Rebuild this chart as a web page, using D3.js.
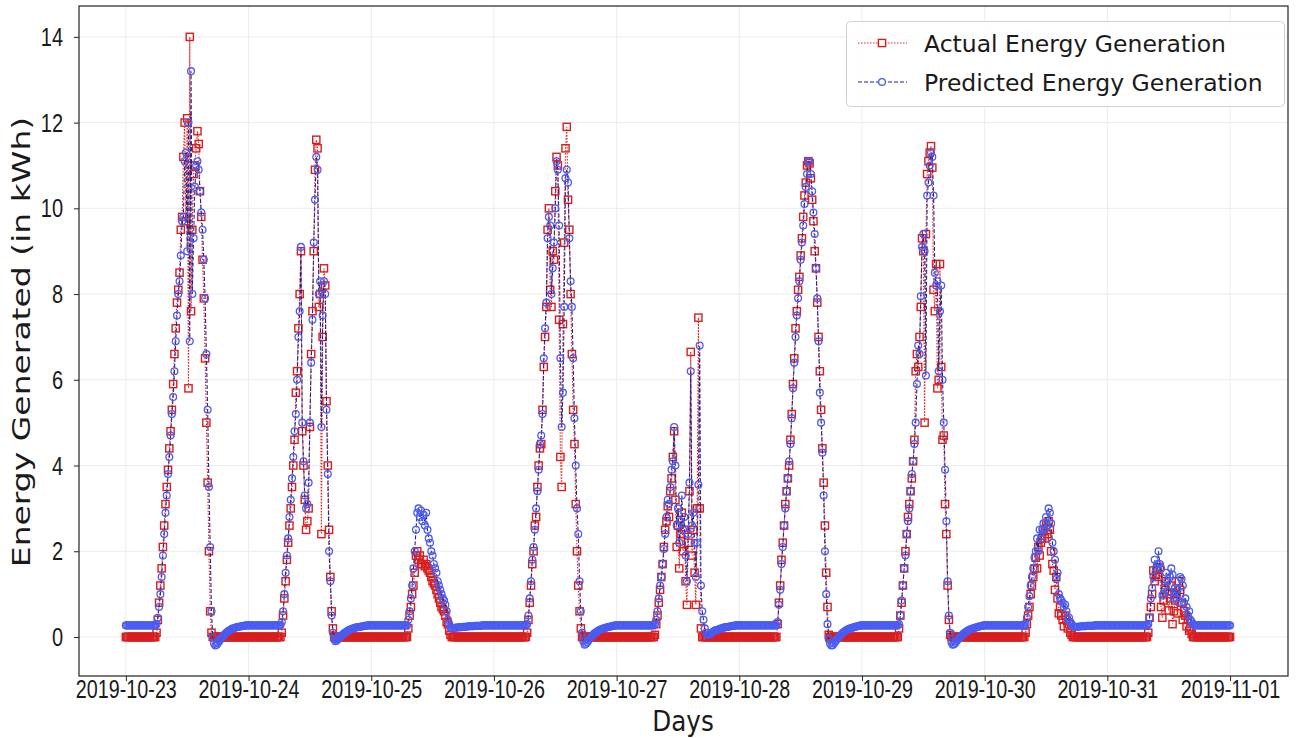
<!DOCTYPE html>
<html>
<head>
<meta charset="utf-8">
<script src="https://cdn.jsdelivr.net/npm/d3@7/dist/d3.min.js"></script>
<style>
  body { margin: 0; background: #fff; }
  svg { display: block; font-family: "DejaVu Sans", sans-serif; }
</style>
</head>
<body>
<div id="chart"></div>
<script>
// readings every 15 minutes, 96 per day (00:00 ... 23:45)
const dayLabels = ["2019-10-23", "2019-10-24", "2019-10-25", "2019-10-26", "2019-10-27",
                   "2019-10-28", "2019-10-29", "2019-10-30", "2019-10-31", "2019-11-01"];
const yTicks = [0, 2, 4, 6, 8, 10, 12, 14];
const seriesNames = ["Actual Energy Generation", "Predicted Energy Generation"];

const actual23 = [
  0,0,0,0,0,0, 0,0,0,0,0,0, 0,0,0,0,0,0, 0,0,0,0,0,0,
  .1,.4,.8,1.2,1.6,2.1, 2.6,3.1,3.5,3.9,4.4,4.8, 5.3,5.9,6.6,7.2,7.8,8.1, 8.5,9.5,9.8,11.2,12.0,9.7,
  12.1,5.8,14.0,7.6,9.5,10.8, 11.0,11.4,11.8,11.5,10.4,9.8, 8.8,7.9,6.5,5.0,3.6,2.0, .6,.1,0,0,0,0,
  0,0,0,0,0,0, 0,0,0,0,0,0, 0,0,0,0,0,0, 0,0,0,0,0,0];
const predicted23 = [
  .27,.27,.27,.27,.27,.27, .27,.27,.27,.27,.27,.27, .27,.27,.27,.27,.27,.27, .27,.27,.27,.27,.27,.27,
  .3,.45,.7,1.0,1.4,1.9, 2.4,2.9,3.3,3.8,4.2,4.7, 5.2,5.6,6.2,6.9,7.5,8.0, 8.3,8.9,9.7,9.8,11.1,11.3,
  9.0,12.0,6.9,13.2,8.0,9.3, 10.5,11.0,11.1,10.9,10.4,9.9, 9.5,8.8,7.9,6.6,5.3,3.5, 2.1,.6,0,-.15,-.2,-.18,
  -.14,-.1,-.06,-.02,.02,.05, .08,.11,.13,.15,.17,.19, .2,.21,.22,.23,.24,.24, .25,.25,.26,.26,.27,.27];

const actual24 = [
  0,0,0,0,0,0, 0,0,0,0,0,0, 0,0,0,0,0,0, 0,0,0,0,0,0,
  0,0,.1,.5,.9,1.3, 1.8,2.2,2.6,3.0,3.5,4.0, 4.6,5.7,6.2,7.2,8.0,9.0, 4.8,4.0,3.2,2.5,2.7,3.0,
  4.9,6.6,7.6,9.0,10.9,11.6, 11.4,7.7,8.0,2.4,7.0,8.6, 8.2,5.5,4.0,2.5,1.4,.6, .2,0,0,0,0,0,
  0,0,0,0,0,0, 0,0,0,0,0,0, 0,0,0,0,0,0, 0,0,0,0,0,0];
const predicted24 = [
  .27,.27,.27,.27,.27,.27, .27,.27,.27,.27,.27,.27, .27,.27,.27,.27,.27,.27, .27,.27,.27,.27,.27,.27,
  .27,.28,.35,.6,1.0,1.5, 1.9,2.3,2.8,3.2,3.7,4.2, 4.8,5.2,6.0,7.0,7.6,9.1, 5.0,4.1,3.3,3.0,3.1,3.6,
  5.0,6.4,7.4,9.2,10.2,11.2, 10.9,8.0,8.3,4.9,7.5,8.3, 8.0,5.3,3.8,2.0,1.3,.5, .1,-.05,-.1,-.08,-.05,-.02,
  .01,.04,.07,.09,.11,.13, .15,.17,.18,.19,.2,.21, .22,.23,.23,.24,.24,.25, .25,.26,.26,.27,.27,.27];

const actual25 = [
  0,0,0,0,0,0, 0,0,0,0,0,0, 0,0,0,0,0,0, 0,0,0,0,0,0,
  0,0,0,0,0,.2, .5,.7,1.0,1.2,1.5,1.9, 2.0,1.8,1.9,1.7,1.7,1.8, 1.65,1.7,1.6,1.55,1.5,1.4,
  1.3,1.25,1.2,1.1,1.0,.9, .8,.7,.65,.6,.5,.35, .3,.15,.05,0,0,0, 0,0,0,0,0,0,
  0,0,0,0,0,0, 0,0,0,0,0,0, 0,0,0,0,0,0, 0,0,0,0,0,0];
const predicted25 = [
  .27,.27,.27,.27,.27,.27, .27,.27,.27,.27,.27,.27, .27,.27,.27,.27,.27,.27, .27,.27,.27,.27,.27,.27,
  .27,.27,.27,.27,.27,.4, .6,.9,1.2,1.6,2.0,2.5, 2.9,3.0,2.8,2.95,2.7,2.85, 2.6,2.9,2.5,2.3,2.2,2.0,
  1.9,1.7,1.6,1.5,1.3,1.2, 1.1,1.0,.9,.85,.75,.6, .4,.3,.22,.2,.21,.21, .22,.22,.22,.23,.23,.23,
  .24,.24,.24,.24,.25,.25, .25,.25,.25,.26,.26,.26, .26,.26,.26,.27,.27,.27, .27,.27,.27,.27,.27,.27];

const actual26 = [
  0,0,0,0,0,0, 0,0,0,0,0,0, 0,0,0,0,0,0, 0,0,0,0,0,0,
  0,0,.1,.4,.8,1.2, 1.7,2.0,2.6,2.8,3.5,4.0, 4.4,4.5,5.3,6.3,7.0,7.7, 9.5,10.0,8.1,7.7,9.0,8.8,
  10.4,11.2,11.0,7.4,4.2,3.5, 7.3,9.2,11.4,11.9,10.2,9.5, 8.0,6.6,5.3,4.5,3.1,2.0, 1.2,.6,.2,0,0,0,
  0,0,0,0,0,0, 0,0,0,0,0,0, 0,0,0,0,0,0, 0,0,0,0,0,0];
const predicted26 = [
  .27,.27,.27,.27,.27,.27, .27,.27,.27,.27,.27,.27, .27,.27,.27,.27,.27,.27, .27,.27,.27,.27,.27,.27,
  .27,.28,.3,.5,.9,1.3, 1.8,2.1,2.5,3.0,3.4,3.9, 4.5,4.7,5.2,6.5,7.2,7.8, 9.3,9.8,9.6,8.0,8.6,9.2,
  10.0,11.1,10.9,9.6,6.5,4.9, 5.7,7.7,10.7,10.9,10.6,9.3, 8.3,7.7,6.5,5.1,4.0,3.0, 2.4,1.3,.6,.1,-.1,-.18,
  -.16,-.12,-.08,-.04,0,.03, .06,.09,.11,.13,.15,.17, .18,.19,.2,.21,.22,.23, .24,.24,.25,.26,.26,.27];

const actual27 = [
  0,0,0,0,0,0, 0,0,0,0,0,0, 0,0,0,0,0,0, 0,0,0,0,0,0,
  0,0,0,0,0,0, .05,.3,.5,.8,1.1,1.4, 1.7,2.1,2.5,2.7,3.05,2.8, 3.4,3.7,4.2,4.8,3.2,2.1,
  2.6,1.6,2.4,2.9,2.0,2.5, 1.3,.75,2.2,3.4,6.65,1.9, 2.5,1.5,.75,3.0,7.45,3.0, .2,0,0,0,0,0,
  0,0,0,0,0,0, 0,0,0,0,0,0, 0,0,0,0,0,0, 0,0,0,0,0,0];
const predicted27 = [
  .27,.27,.27,.27,.27,.27, .27,.27,.27,.27,.27,.27, .27,.27,.27,.27,.27,.27, .27,.27,.27,.27,.27,.27,
  .27,.27,.27,.27,.27,.27, .3,.4,.6,.9,1.2,1.4, 1.7,2.05,2.4,2.8,3.2,3.1, 3.5,3.9,4.1,4.9,4.0,2.6,
  3.0,2.2,2.7,3.3,2.5,2.8, 1.9,1.3,2.4,3.6,6.2,2.6, 2.9,2.2,1.4,2.2,3.55,6.8, 1.2,.6,.4,.2,.1,.05,
  .05,.07,.09,.11,.13,.15, .16,.17,.18,.19,.2,.21, .22,.23,.23,.24,.24,.25, .25,.26,.26,.27,.27,.27];

const actual28 = [
  0,0,0,0,0,0, 0,0,0,0,0,0, 0,0,0,0,0,0, 0,0,0,0,0,0,
  0,0,0,0,0,0, .3,.8,1.2,1.8,2.2,2.6, 3.1,3.4,3.7,4.0,4.6,5.2, 5.9,6.5,7.2,7.6,8.1,8.4,
  8.9,9.3,9.8,10.3,10.6,11.0, 11.1,11.05,10.7,10.2,9.7,9.0, 8.6,7.8,7.0,6.2,5.3,4.4, 3.6,2.6,1.5,.7,.05,0,
  0,0,0,0,0,0, 0,0,0,0,0,0, 0,0,0,0,0,0, 0,0,0,0,0,0];
const predicted28 = [
  .27,.27,.27,.27,.27,.27, .27,.27,.27,.27,.27,.27, .27,.27,.27,.27,.27,.27, .27,.27,.27,.27,.27,.27,
  .27,.27,.27,.27,.27,.27, .35,.75,1.1,1.7,2.1,2.6, 3.0,3.4,3.7,4.1,4.5,5.1, 5.8,6.4,7.0,7.5,7.9,8.3,
  8.8,9.2,9.6,10.1,10.5,10.8, 11.1,11.1,10.8,10.4,9.9,9.4, 8.6,7.9,6.9,5.7,5.0,4.3, 3.3,2.0,1.0,.3,-.05,-.15,
  -.2,-.19,-.15,-.11,-.07,-.03, 0,.04,.07,.1,.12,.14, .16,.18,.19,.2,.21,.22, .23,.24,.25,.25,.26,.27];

const actual29 = [
  0,0,0,0,0,0, 0,0,0,0,0,0, 0,0,0,0,0,0, 0,0,0,0,0,0,
  0,0,0,0,0,.2, .5,.8,1.2,1.6,2.0,2.4, 2.8,3.1,3.4,3.7,4.1,4.6, 6.2,6.6,6.3,7.0,7.7,9.3,
  9.0,5.0,9.4,10.8,11.1,11.3, 11.45,10.95,8.1,7.6,8.7,5.8, 6.0,8.7,6.3,4.6,4.7,3.1, 2.4,1.2,.4,.05,0,0,
  0,0,0,0,0,0, 0,0,0,0,0,0, 0,0,0,0,0,0, 0,0,0,0,0,0];
const predicted29 = [
  .27,.27,.27,.27,.27,.27, .27,.27,.27,.27,.27,.27, .27,.27,.27,.27,.27,.27, .27,.27,.27,.27,.27,.27,
  .27,.27,.27,.27,.27,.3, .5,.85,1.2,1.6,1.9,2.4, 2.7,3.0,3.4,3.8,4.1,4.5, 5.0,5.9,6.8,6.6,7.95,9.1,
  9.4,9.0,6.1,10.3,10.6,11.0, 11.3,11.2,10.3,8.5,8.2,8.3, 6.2,7.6,8.2,6.0,5.0,3.9, 2.7,1.3,.5,.1,-.12,-.18,
  -.17,-.14,-.1,-.06,-.03,0, .03,.06,.09,.11,.13,.15, .17,.18,.19,.2,.21,.22, .23,.24,.25,.25,.26,.27];

const actual30 = [
  0,0,0,0,0,0, 0,0,0,0,0,0, 0,0,0,0,0,0, 0,0,0,0,0,0,
  0,0,0,0,0,0, 0,0,.1,.3,.5,.7, 1.0,1.2,1.4,1.6,1.85,1.6, 2.1,1.9,2.2,2.3,2.5,2.3,
  2.6,2.4,2.7,2.5,2.0,1.7, 1.55,1.1,1.4,.9,.55,.7, .5,.4,.25,.5,.4,.2, .3,.1,.05,0,0,0,
  0,0,0,0,0,0, 0,0,0,0,0,0, 0,0,0,0,0,0, 0,0,0,0,0,0];
const predicted30 = [
  .27,.27,.27,.27,.27,.27, .27,.27,.27,.27,.27,.27, .27,.27,.27,.27,.27,.27, .27,.27,.27,.27,.27,.27,
  .27,.27,.27,.27,.27,.27, .27,.27,.3,.45,.7,.95, 1.2,1.4,1.6,1.85,2.0,2.3, 2.0,2.5,2.3,2.5,2.65,2.5,
  2.8,2.6,3.0,2.9,2.65,2.2, 2.0,1.8,1.35,1.5,1.0,.9, .85,.8,.7,.75,.6,.4, .45,.35,.3,.25,.24,.24,
  .24,.24,.24,.25,.25,.25, .25,.25,.26,.26,.26,.26, .26,.26,.27,.27,.27,.27, .27,.27,.27,.27,.27,.27];

const actual31 = [
  0,0,0,0,0,0, 0,0,0,0,0,0, 0,0,0,0,0,0, 0,0,0,0,0,0,
  0,0,0,0,0,0, 0,0,.1,.45,.7,1.0, 1.55,1.3,1.45,1.6,1.4,1.63, .7,.45,.85,1.1,1.3,1.0,
  .62,.9,1.2,.3,.6,.85, 1.0,.55,1.3,1.1,.8,.4, .6,.5,.25,.4,.15,.2, .07,0,0,0,0,0,
  0,0,0,0,0,0, 0,0,0,0,0,0, 0,0,0,0,0,0, 0,0,0,0,0,0];
const predicted31 = [
  .27,.27,.27,.27,.27,.27, .27,.27,.27,.27,.27,.27, .27,.27,.27,.27,.27,.27, .27,.27,.27,.27,.27,.27,
  .27,.27,.27,.27,.27,.27, .27,.27,.3,.45,.9,1.15, 1.4,1.8,1.6,1.7,2.0,1.7, 1.6,.97,1.0,1.2,1.5,1.3,
  1.05,1.4,1.6,1.45,.9,1.15, .9,1.1,.8,1.4,1.35,1.2, .8,.9,.7,.5,.6,.4, .35,.3,.27,.27,.27,.27,
  .27,.27,.27,.27,.27,.27, .27,.27,.27,.27,.27,.27, .27,.27,.27,.27,.27,.27, .27,.27,.27,.27,.27,.27];

// last reading, 2019-11-01 00:00
const actualLast = [0];
const predictedLast = [.27];

const actualDays = [actual23, actual24, actual25, actual26, actual27, actual28, actual29, actual30, actual31];
const predictedDays = [predicted23, predicted24, predicted25, predicted26, predicted27, predicted28, predicted29, predicted30, predicted31];
[...actualDays, ...predictedDays].forEach((arr, k) => {
  if (arr.length !== 96) throw new Error("day array " + k + " has " + arr.length + " values");
});

const actual = [].concat(...actualDays, actualLast);
const predicted = [].concat(...predictedDays, predictedLast);

const parseDay = d3.utcParse("%Y-%m-%d");
const dayDates = dayLabels.map(parseDay);
const times = actual.map((v, i) => new Date(dayDates[0].getTime() + i * 15 * 60 * 1000));

const width = 1300, height = 738;
const plot = {left: 79, right: 1288, top: 6, bottom: 676};

const svg = d3.select("#chart").append("svg")
  .attr("width", width)
  .attr("height", height);

const x = d3.scaleUtc()
  .domain([new Date(Date.UTC(2019, 9, 22, 14, 50)), new Date(Date.UTC(2019, 10, 1, 11, 20))])
  .range([plot.left, plot.right]);

const y = d3.scaleLinear()
  .domain([-0.91, 14.72])
  .range([plot.bottom, plot.top]);

// grid
svg.append("g")
  .selectAll("line")
  .data(dayDates)
  .join("line")
  .attr("x1", d => x(d)).attr("x2", d => x(d))
  .attr("y1", plot.top).attr("y2", plot.bottom)
  .attr("stroke", "#ececec").attr("stroke-width", 1);

svg.append("g")
  .selectAll("line")
  .data(yTicks)
  .join("line")
  .attr("x1", plot.left).attr("x2", plot.right)
  .attr("y1", d => y(d)).attr("y2", d => y(d))
  .attr("stroke", "#ececec").attr("stroke-width", 1);

// axes
const xAxis = svg.append("g")
  .attr("transform", "translate(0," + plot.bottom + ")")
  .call(d3.axisBottom(x).tickValues(dayDates).tickFormat(d3.utcFormat("%Y-%m-%d")).tickSize(5));
xAxis.select(".domain").remove();
xAxis.selectAll("line").attr("stroke", "#222");
xAxis.selectAll("text")
  .attr("y", 22).attr("dy", 0)
  .attr("transform", "scale(0.79,1)")
  .style("font-size", "25px").attr("fill", "#1a1a1a");

const yAxis = svg.append("g")
  .attr("transform", "translate(" + plot.left + ",0)")
  .call(d3.axisLeft(y).tickValues(yTicks).tickSize(5));
yAxis.select(".domain").remove();
yAxis.selectAll("line").attr("stroke", "#222");
yAxis.selectAll("text")
  .attr("x", -20).attr("dy", "0.34em")
  .attr("transform", "scale(0.8,1)")
  .style("font-size", "25px").attr("fill", "#1a1a1a");

// series
const pointsA = actual.map((v, i) => ({t: times[i], v: v}));
const pointsP = predicted.map((v, i) => ({t: times[i], v: v}));
const line = d3.line().x(d => x(d.t)).y(d => y(d.v));

const redLine = "#e8231f", redMark = "#d81e1e";
const blueLine = "#25258f", blueMark = "#4a5cf2";

svg.append("path")
  .datum(pointsA)
  .attr("d", line)
  .attr("fill", "none")
  .attr("stroke", redLine)
  .attr("stroke-width", 1.1)
  .attr("stroke-dasharray", "1.5,1.5");

svg.append("g")
  .selectAll("rect")
  .data(pointsA)
  .join("rect")
  .attr("x", d => x(d.t) - 3.6)
  .attr("y", d => y(d.v) - 3.6)
  .attr("width", 7.2).attr("height", 7.2)
  .attr("fill", "none")
  .attr("stroke", redMark)
  .attr("stroke-width", 1.4);

svg.append("path")
  .datum(pointsP)
  .attr("d", line)
  .attr("fill", "none")
  .attr("stroke", blueLine)
  .attr("stroke-width", 1.1)
  .attr("stroke-dasharray", "4,2");

svg.append("g")
  .selectAll("circle")
  .data(pointsP)
  .join("circle")
  .attr("cx", d => x(d.t))
  .attr("cy", d => y(d.v))
  .attr("r", 3.4)
  .attr("fill", "none")
  .attr("stroke", blueMark)
  .attr("stroke-width", 1.3);

// frame
svg.append("rect")
  .attr("x", plot.left).attr("y", plot.top)
  .attr("width", plot.right - plot.left).attr("height", plot.bottom - plot.top)
  .attr("fill", "none").attr("stroke", "#222").attr("stroke-width", 1.2);

// axis titles
svg.append("text")
  .attr("transform", "translate(683,731) scale(0.85,1)")
  .attr("text-anchor", "middle")
  .style("font-size", "29px").attr("fill", "#1a1a1a")
  .text("Days");

svg.append("text")
  .attr("transform", "translate(30,342) scale(0.75,1) rotate(-90)")
  .attr("text-anchor", "middle")
  .style("font-size", "33px").attr("fill", "#1a1a1a")
  .text("Energy Generated (in kWh)");

// legend
const legend = svg.append("g");
legend.append("rect")
  .attr("x", 846.5).attr("y", 21.5).attr("width", 438).attr("height", 85).attr("rx", 4)
  .attr("fill", "white").attr("fill-opacity", 0.85)
  .attr("stroke", "#d0d0d0").attr("stroke-width", 1);

const rows = [
  {name: seriesNames[0], y: 43, color: redLine, mark: redMark, dash: "1.5,1.5", shape: "square"},
  {name: seriesNames[1], y: 82, color: blueLine, mark: blueMark, dash: "4,2", shape: "circle"}
];
rows.forEach(r => {
  legend.append("line")
    .attr("x1", 858).attr("x2", 907).attr("y1", r.y).attr("y2", r.y)
    .attr("stroke", r.color).attr("stroke-width", 1.1).attr("stroke-dasharray", r.dash);
  if (r.shape === "square") {
    legend.append("rect")
      .attr("x", 882 - 3.6).attr("y", r.y - 3.6).attr("width", 7.2).attr("height", 7.2)
      .attr("fill", "white").attr("stroke", r.mark).attr("stroke-width", 1.4);
  } else {
    legend.append("circle")
      .attr("cx", 882).attr("cy", r.y).attr("r", 3.4)
      .attr("fill", "white").attr("stroke", r.mark).attr("stroke-width", 1.3);
  }
  legend.append("text")
    .attr("x", 924).attr("y", r.y + 8.5)
    .style("font-size", "23.5px").attr("fill", "#1a1a1a")
    .text(r.name);
});
</script>
</body>
</html>
